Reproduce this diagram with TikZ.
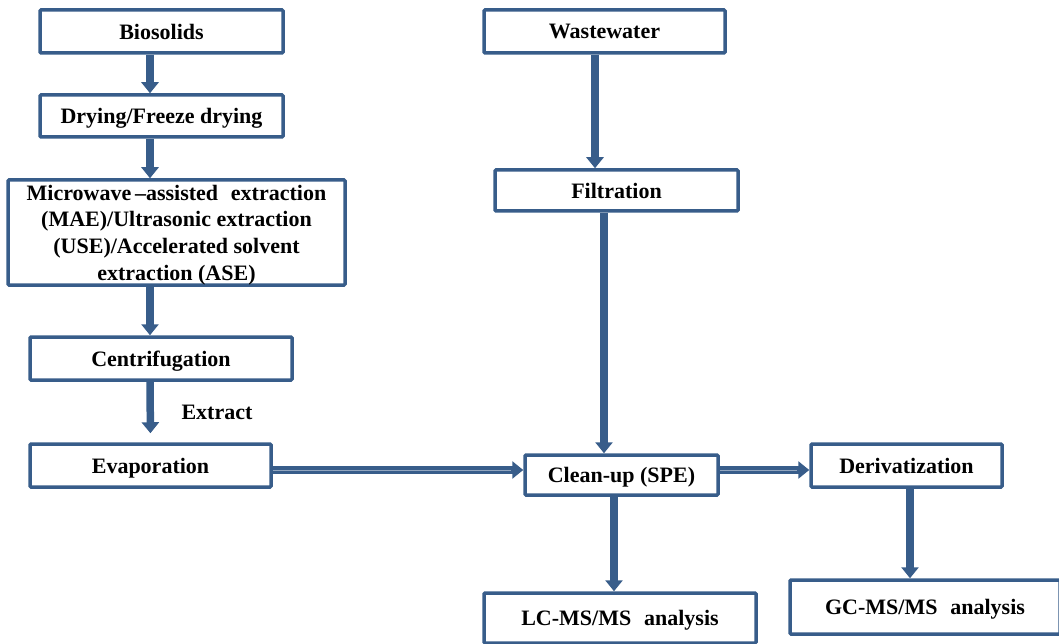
\documentclass[tikz,border=0pt]{standalone}
\usepackage{fontspec}
\setmainfont{Liberation Serif}
\usepackage{tikz}
\usetikzlibrary{arrows.meta}

\definecolor{flowblue}{RGB}{56,93,138}

\tikzset{
	box/.style={draw=flowblue, line width=3.5pt, fill=white, rounded corners=1pt,
		inner sep=0pt, align=center, text depth=0pt, font=\fontsize{22}{26.7}\selectfont\bfseries},
	flow/.style={draw=flowblue, line width=7.5pt,
		-{Triangle[width=17pt,length=11pt]}},
	flowh/.style={flow, postaction={draw=flowblue!55!white, line width=1pt, -, shorten >=12pt}}
}

\begin{document}
\begin{tikzpicture}[x=1pt,y=-1pt]
	\useasboundingbox (0,0) rectangle (1059,644);
	\clip (0,0) rectangle (1059,644);
	
	% left column
	\node[box, minimum width=243pt, minimum height=43pt] (bio) at (161.5,31.5) {Biosolids};
	\node[box, minimum width=243pt, minimum height=42pt] (dry) at (161.5,116) {Drying/Freeze drying};
	\node[box, minimum width=337pt, minimum height=105pt] (mae) at (176.5,232.5)
		{Microwave\,--assisted\,\, extraction\\(MAE)/Ultrasonic extraction\\(USE)/Accelerated solvent\\extraction (ASE)};
	\node[box, minimum width=262pt, minimum height=43pt] (cen) at (161,358.5) {Centrifugation};
	\node[box, minimum width=241pt, minimum height=43pt] (eva) at (150.5,465.5) {Evaporation};
	
	% right part
	\node[box, minimum width=241pt, minimum height=43pt] (ww) at (604.5,31.5) {Wastewater};
	\node[box, minimum width=243pt, minimum height=41pt] (fil) at (616.5,190.5) {Filtration};
	\node[box, minimum width=193pt, minimum height=40pt] (spe) at (621.5,475) {Clean-up (SPE)};
	\node[box, minimum width=191pt, minimum height=43pt] (der) at (906.5,465.5) {Derivatization};
	\node[box, minimum width=272pt, minimum height=50pt] (lc) at (620,618) {LC-MS/MS\,\, analysis};
	\node[box, minimum width=270pt, minimum height=54pt] (gc) at (925,607) {GC-MS/MS\,\, analysis};
	
	\node[font=\fontsize{22}{26}\selectfont\bfseries] (ext) at (217,412) {Extract};
	
	% connectors
	\draw[flow] ([xshift=-11.5pt]bio.south) -- ([xshift=-11.5pt]dry.north);
	\draw[flow] ([xshift=-11.5pt]dry.south) -- ([xshift=-26.5pt]mae.north);
	\draw[flow] ([xshift=-26.5pt]mae.south) -- ([xshift=-11pt]cen.north);
	\draw[flow, shorten >=9pt] ([xshift=-11pt]cen.south) -- (eva.north);
	\draw[flow] ([xshift=-9.5pt]ww.south) -- ([xshift=-21.5pt]fil.north);
	\draw[flow] ([xshift=-12.5pt]fil.south) -- ([xshift=-17.5pt]spe.north);
	\draw[flowh] ([yshift=-4.5pt]eva.east) -- ([yshift=5pt]spe.west);
	\draw[flowh] ([yshift=5pt]spe.east) -- ([yshift=-4.5pt]der.west);
	\draw[flow] ([xshift=-7.5pt]spe.south) -- ([xshift=-6pt]lc.north);
	\draw[flow] ([xshift=3.5pt]der.south) -- ([xshift=-15pt]gc.north);
\end{tikzpicture}
\end{document}
